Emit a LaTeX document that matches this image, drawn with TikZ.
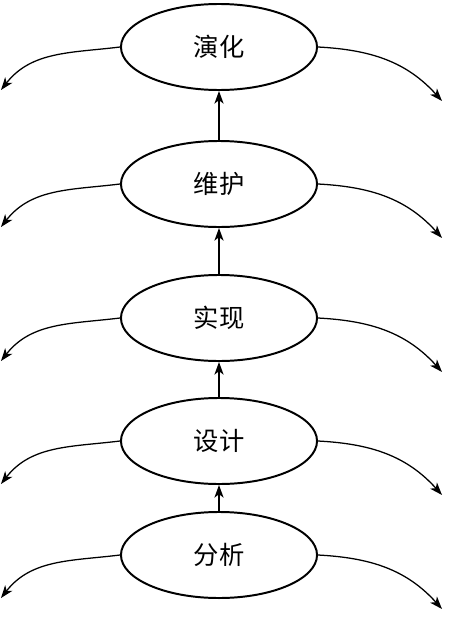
\documentclass[tikz,border=0pt]{standalone}
\usepackage{fontspec}
\newfontfamily\cjk{Noto Sans CJK SC}
\usetikzlibrary{arrows.meta,positioning,calc,shapes.geometric}

\tikzset{
  stage/.style={ellipse, draw, line width=1.4pt, minimum width=4.9cm,
    minimum height=2.15cm, inner sep=0pt,
    font=\cjk\fontsize{18pt}{18pt}\selectfont},
  flow/.style={line width=0.9pt, -{Stealth[length=9pt,width=6.5pt,inset=2.5pt]}}
}

\begin{document}
\begin{tikzpicture}[x=0.025cm, y=0.025cm]
    % the frame
    \useasboundingbox (0,0) rectangle (449,-618);

    % the stages
    \node[stage] (evo) at (219,-47)  {演化};
    \node[stage] (mai) at (219,-184) {维护};
    \node[stage] (imp) at (219,-318) {实现};
    \node[stage] (des) at (219,-441) {设计};
    \node[stage] (ana) at (219,-555) {分析};

    % from one stage to the next
    \draw[flow] (ana) -- (des);
    \draw[flow] (des) -- (imp);
    \draw[flow] (imp) -- (mai);
    \draw[flow] (mai) -- (evo);

    % the arrows going out on both sides
    \foreach \n in {evo,mai,imp,des,ana} {
        \coordinate (\n L) at ($(\n.west)+(-119,-43)$);
        \coordinate (\n R) at ($(\n.east)+(124,-54)$);
        \draw[flow] (\n.west) to[out=187, in=52] (\n L);
        \draw[flow] (\n.east) to[out=-3, in=132] (\n R);
    }
\end{tikzpicture}
\end{document}
